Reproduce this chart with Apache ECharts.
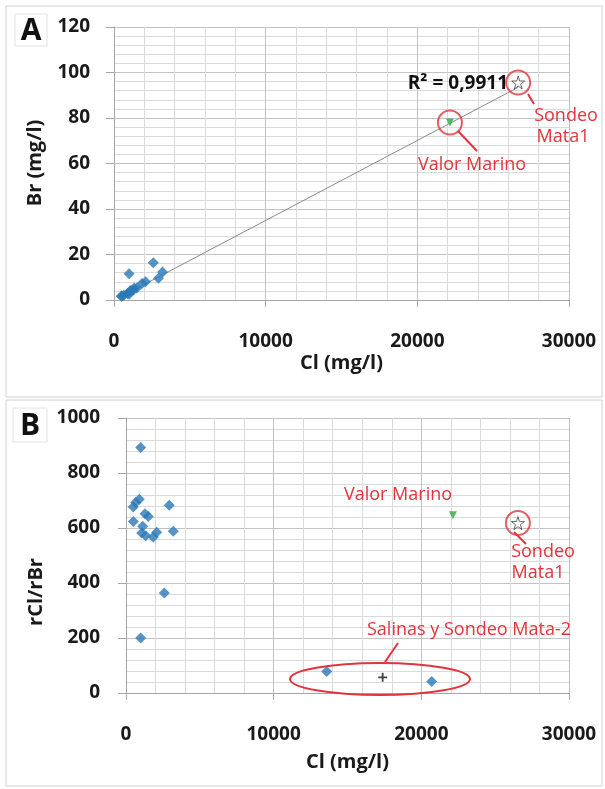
<!DOCTYPE html>
<html>
<head>
<meta charset="utf-8">
<script src="https://cdn.jsdelivr.net/npm/echarts@6/dist/echarts.min.js"></script>
<style>
  html, body { margin: 0; padding: 0; background: #fff; }
  #chart { width: 605px; height: 789px; }
</style>
</head>
<body>
<div id="chart"></div>
<script>
// Panel A: Cl vs Br (muestras)
var clA = [995, 494, 657, 900, 2930, 494, 1286, 1510, 1130, 1063, 1334, 1848, 2080, 3200, 2593, 995];
var brA = [2.5, 1.6, 2.1, 2.9, 9.6, 1.8, 4.4, 5.3, 4.2, 4.1, 5.3, 7.3, 8.0, 12.3, 16.4, 11.5];
var seaA = [22150, 78];      // Valor Marino
var mata1A = [26650, 95.6];  // Sondeo Mata1
var trendA = [[480, 1.5], [26650, 93.5]];

// Panel B: Cl vs rCl/rBr
var clB = [995, 494, 657, 900, 2930, 494, 1286, 1510, 1130, 1063, 1334, 1848, 2080, 3200, 2593, 995];
var ratioB = [893, 676, 693, 705, 683, 624, 652, 642, 606, 582, 572, 567, 585, 588, 364, 200];
var clSal = [13590, 20700];
var ratioSal = [78, 42];
var plusB = [17380, 57];
var seaB = [22140, 646];
var mata1B = [26540, 618];

var xTicks = [0, 10000, 20000, 30000];
var yTicksA = [0, 20, 40, 60, 80, 100, 120];
var yTicksB = [0, 200, 400, 600, 800, 1000];

var FONT = '"Open Sans", "DejaVu Sans", sans-serif';
var BLUE = '#2A78B6';
var GREEN = '#2BA84A';
var RED = '#E2343C';
var STAR = 'path://M50,0 L61,35 L98,35 L68,57 L79,91 L50,70 L21,91 L32,57 L2,35 L39,35 Z';
var PLUS = 'path://M4,0 H6 V4 H10 V6 H6 V10 H4 V6 H0 V4 H4 Z';

function zip(a, b) {
  var out = [];
  for (var i = 0; i < a.length; i++) out.push([a[i], b[i]]);
  return out;
}

function plain(v) { return String(v); }

function xAxis(grid) {
  return {
    type: 'value', gridIndex: grid,
    min: xTicks[0], max: xTicks[xTicks.length - 1], interval: 10000,
    name: 'Cl (mg/l)', nameLocation: 'middle', nameGap: grid === 0 ? 53 : 59,
    nameTextStyle: { fontFamily: FONT, fontWeight: 'bold', fontSize: 20, color: '#1a1a1a' },
    axisLine: { lineStyle: { color: '#a6a6a6' } },
    axisTick: { show: true, length: 7, lineStyle: { color: '#a6a6a6' } },
    axisLabel: { margin: 32, formatter: plain, fontFamily: FONT, fontWeight: 'bold', fontSize: 19, color: '#1a1a1a' },
    splitLine: { show: true, lineStyle: { color: '#c2c2c2' } },
    minorTick: { show: false, splitNumber: 5 },
    minorSplitLine: { show: true, lineStyle: { color: '#dadada' } }
  };
}

function yAxis(grid, ticks, step, margin) {
  return {
    type: 'value', gridIndex: grid,
    min: ticks[0], max: ticks[ticks.length - 1], interval: step,
    axisLine: { show: true, lineStyle: { color: '#a6a6a6' } },
    axisTick: { show: true, length: 8, lineStyle: { color: '#a6a6a6' } },
    axisLabel: { margin: margin, formatter: plain, fontFamily: FONT, fontWeight: 'bold', fontSize: 19, color: '#1a1a1a' },
    splitLine: { show: true, lineStyle: { color: '#c2c2c2' } },
    minorTick: { show: false, splitNumber: 5 },
    minorSplitLine: { show: true, lineStyle: { color: '#dadada' } }
  };
}

function ring(xi, yi, pt) {
  return {
    type: 'scatter', xAxisIndex: xi, yAxisIndex: yi, data: [pt],
    symbol: 'circle', symbolSize: 24, silent: true, z: 5,
    itemStyle: { color: 'rgba(0,0,0,0)', borderColor: RED, borderWidth: 2 }
  };
}

function txt(x, y, s, font, color, align) {
  return {
    type: 'text', x: x, y: y, z: 100,
    style: { text: s, font: font, fill: color, align: align || 'center', verticalAlign: 'middle' }
  };
}

function seg(x1, y1, x2, y2) {
  return {
    type: 'line', z: 100,
    shape: { x1: x1, y1: y1, x2: x2, y2: y2 },
    style: { stroke: RED, lineWidth: 2 }
  };
}

var redFont = '18px ' + FONT;
var titleFont = 'bold 20px ' + FONT;

var option = {
  backgroundColor: '#fff',
  animation: false,
  grid: [
    { left: 114, right: 36, top: 27, height: 273 },
    { left: 126, right: 36, top: 418, height: 275 }
  ],
  xAxis: [xAxis(0), xAxis(1)],
  yAxis: [yAxis(0, yTicksA, 20, 24), yAxis(1, yTicksB, 200, 26)],
  series: [
    { type: 'line', xAxisIndex: 0, yAxisIndex: 0, data: trendA, showSymbol: false,
      lineStyle: { color: '#8a8a8a', width: 1 }, z: 2 },
    { type: 'scatter', xAxisIndex: 0, yAxisIndex: 0, data: zip(clA, brA),
      symbol: 'diamond', symbolSize: 11, itemStyle: { color: BLUE } },
    { type: 'scatter', xAxisIndex: 0, yAxisIndex: 0, data: [seaA],
      symbol: 'triangle', symbolRotate: 180, symbolSize: 8, itemStyle: { color: GREEN } },
    { type: 'scatter', xAxisIndex: 0, yAxisIndex: 0, data: [mata1A],
      symbol: STAR, symbolSize: 13, itemStyle: { color: '#fff', borderColor: '#444', borderWidth: 1 } },
    ring(0, 0, seaA),
    ring(0, 0, mata1A),

    { type: 'scatter', xAxisIndex: 1, yAxisIndex: 1, data: zip(clB, ratioB),
      symbol: 'diamond', symbolSize: 11, itemStyle: { color: BLUE } },
    { type: 'scatter', xAxisIndex: 1, yAxisIndex: 1, data: zip(clSal, ratioSal),
      symbol: 'diamond', symbolSize: 11, itemStyle: { color: BLUE } },
    { type: 'scatter', xAxisIndex: 1, yAxisIndex: 1, data: [plusB],
      symbol: PLUS, symbolSize: 9, itemStyle: { color: '#111' } },
    { type: 'scatter', xAxisIndex: 1, yAxisIndex: 1, data: [seaB],
      symbol: 'triangle', symbolRotate: 180, symbolSize: 8, itemStyle: { color: GREEN } },
    { type: 'scatter', xAxisIndex: 1, yAxisIndex: 1, data: [mata1B],
      symbol: STAR, symbolSize: 13, itemStyle: { color: '#fff', borderColor: '#444', borderWidth: 1 } },
    ring(1, 1, mata1B)
  ],
  graphic: [
    // marcos de los paneles
    { type: 'rect', z: 0, shape: { x: 6, y: 6, width: 596, height: 391 },
      style: { fill: 'none', stroke: '#d0d0d0', lineWidth: 1 } },
    { type: 'rect', z: 0, shape: { x: 6, y: 400, width: 596, height: 386 },
      style: { fill: 'none', stroke: '#d0d0d0', lineWidth: 1 } },
    { type: 'rect', z: 0, shape: { x: 15, y: 14, width: 32, height: 32 },
      style: { fill: '#fff', stroke: '#e2e2e2', lineWidth: 1 } },
    { type: 'rect', z: 0, shape: { x: 13, y: 408, width: 34, height: 34 },
      style: { fill: '#fff', stroke: '#e2e2e2', lineWidth: 1 } },
    txt(31, 31, 'A', 'bold 30px ' + FONT, '#111'),
    txt(30, 426, 'B', 'bold 30px ' + FONT, '#111'),

    // titulos eje Y
    { type: 'text', x: 35, y: 163, rotation: Math.PI / 2, z: 100,
      style: { text: 'Br (mg/l)', font: titleFont, fill: '#1a1a1a', align: 'center', verticalAlign: 'middle' } },
    { type: 'text', x: 36, y: 592, rotation: Math.PI / 2, z: 100,
      style: { text: 'rCl/rBr', font: titleFont, fill: '#1a1a1a', align: 'center', verticalAlign: 'middle' } },

    // anotaciones panel A
    txt(508, 84, 'R² = 0,9911', 'bold 19px ' + FONT, '#111', 'right'),
    seg(528, 94, 534, 104),
    txt(566, 116, 'Sondeo', redFont, RED),
    txt(563, 137, 'Mata1', redFont, RED),
    seg(458, 131, 477, 151),
    txt(472, 165, 'Valor Marino', redFont, RED),

    // anotaciones panel B
    txt(398, 495, 'Valor Marino', redFont, RED),
    seg(514, 532, 526, 544),
    txt(543, 552, 'Sondeo', redFont, RED),
    txt(538, 573, 'Mata1', redFont, RED),
    txt(367, 630, 'Salinas y Sondeo Mata-2', redFont, RED, 'left'),
    seg(385, 662, 398, 643),
    { type: 'ellipse', z: 100, shape: { cx: 380, cy: 679, rx: 90, ry: 16 },
      style: { fill: 'none', stroke: RED, lineWidth: 2 } }
  ]
};

var chart = echarts.init(document.getElementById('chart'), null, { renderer: 'canvas' });
chart.setOption(option);
</script>
</body>
</html>
